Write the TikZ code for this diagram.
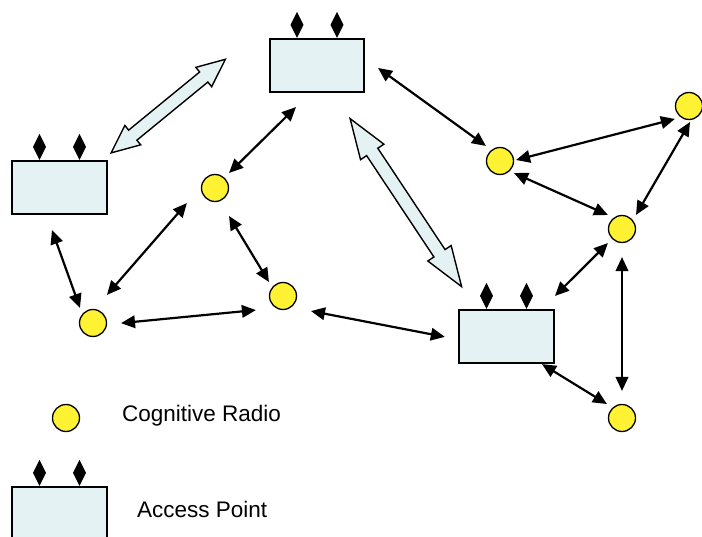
\documentclass[tikz,border=0pt]{standalone}
\usepackage{fontspec}
\setmainfont{Liberation Sans}
\usepackage{xcolor}
\usepackage{tikz}
\usetikzlibrary{arrows.meta,calc}
\definecolor{apfill}{RGB}{228,242,243}
\definecolor{cryellow}{RGB}{255,242,51}
% wide two-headed arrow: start, end, head length, head half width, shaft half width
\newcommand{\blockarrow}[5]{%
  \coordinate (#1h) at ($(#1)!#3!(#2)$);
  \coordinate (#2h) at ($(#2)!#3!(#1)$);
  \draw[blockarr] (#1) -- ($(#1h)!#4!90:(#2)$) -- ($(#1h)!#5!90:(#2)$)
    -- ($(#2h)!#5!-90:(#1)$) -- ($(#2h)!#4!-90:(#1)$) -- (#2)
    -- ($(#2h)!#4!90:(#1)$) -- ($(#2h)!#5!90:(#1)$)
    -- ($(#1h)!#5!-90:(#2)$) -- ($(#1h)!#4!-90:(#2)$) -- cycle;}

\begin{document}
\begin{tikzpicture}[x=1pt,y=-1pt,
  apbox/.style={draw,line width=1.7pt,fill=apfill,minimum width=94.5pt,minimum height=53.5pt,inner sep=0pt},
  radio/.style={circle,draw,line width=1.3pt,fill=cryellow,minimum size=27pt,inner sep=0pt},
  link/.style={line width=2.2pt,<->,>={Triangle[length=14pt,width=12.5pt]}},
  blockarr/.style={draw,line width=1.4pt,fill=apfill,line join=miter},
  lbl/.style={anchor=base west,inner sep=0pt,font=\fontsize{22.5}{27}\selectfont}]
\useasboundingbox (0,0) rectangle (702,537);

% access points
\node[apbox] (apT) at (317,65.5) {};
\node[apbox] (apL) at (59.5,187.5) {};
\node[apbox] (apR) at (506.5,336.5) {};
\node[apbox] (apLeg) at (59.5,513.5) {};
\foreach \ap in {apT,apL,apR,apLeg}
  \foreach \dx in {-20,20}
    \fill ([xshift=\dx pt]\ap.north) -- ++(-6.5,-13) -- ++(6.5,-13) -- ++(6.5,13) -- cycle;

% cognitive radios
\node[radio] (c1) at (215,188) {};
\node[radio] (c2) at (283,296) {};
\node[radio] (c3) at (93,323) {};
\node[radio] (c4) at (500,161) {};
\node[radio] (c5) at (689,106) {};
\node[radio] (c6) at (622,229) {};
\node[radio] (c7) at (622,418) {};
\node[radio] (cLeg) at (66,418) {};

% backbone links between access points
\coordinate (b1a) at ([shift={(3.5pt,7pt)}]apL.north east);
\coordinate (b1b) at ([shift={(-43.5pt,6.2pt)}]apT.west);
\coordinate (b2a) at ([shift={(-15pt,-25.5pt)}]apT.south east);
\coordinate (b2b) at ([shift={(3.2pt,22.3pt)}]apR.north west);
\blockarrow{b1a}{b1b}{28pt}{12.5pt}{6.5pt}
\blockarrow{b2a}{b2b}{40pt}{14pt}{6.7pt}

% radio links
\draw[link,shorten <=19.9pt,shorten >=6.4pt] ([xshift=-6.8pt]apT.south) -- (c1.48);
\draw[link,shorten <=16pt,shorten >=6.6pt] ([yshift=6.9pt]apT.east) -- (c4.128);
\draw[link,shorten <=2pt,shorten >=6pt] (c4.2) -- (c5.234);
\draw[link,shorten <=2.4pt,shorten >=6pt] (c5.279) -- (c6.39);
\draw[link,shorten <=4.6pt,shorten >=6.3pt] (c4.314) -- (c6.126);
\draw[link,shorten <=5.7pt,shorten >=18.3pt] (c6.225) -- ([xshift=35.5pt]apR.north);
\draw[link,shorten <=13.9pt,shorten >=12.9pt] (c6.south) -- (c7.north);
\draw[link,shorten >=6.6pt] ([xshift=35.5pt]apR.south) -- (c7.132);
\draw[link,shorten <=19.8pt,shorten >=13.8pt] (c2.307) -- ([yshift=-3pt]apR.west);
\draw[link,shorten <=14pt,shorten >=19.9pt] (c3.354.5) -- (c2.239);
\draw[link,shorten <=18.6pt,shorten >=21.3pt] (c3.83) -- (c1.176);
\draw[link,shorten <=17.3pt,shorten >=5.9pt] (c1.291) -- (c2.141);
\draw[link,shorten <=15.9pt,shorten >=6.4pt] ([xshift=-12.9pt]apL.south) -- (c3.140);

% legend
\node[lbl] (lblCR) at (122,421) {Cognitive Radio};
\node[lbl] (lblAP) at (137,517) {Access Point};
\end{tikzpicture}
\end{document}
